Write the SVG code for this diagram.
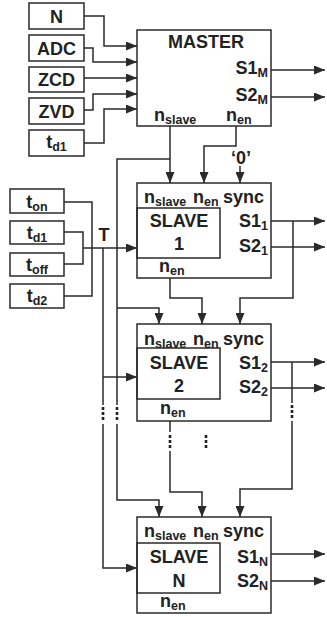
<svg xmlns="http://www.w3.org/2000/svg" width="327" height="617" viewBox="0 0 327 617">
<defs>
<marker id="ah" markerUnits="userSpaceOnUse" markerWidth="11" markerHeight="9" refX="11" refY="4.5" orient="auto">
<path d="M0,0 L11,4.5 L0,9 Z" fill="#2a2a2a"/>
</marker>
</defs>
<style>
.b{fill:#fff;stroke:#2a2a2a;stroke-width:1.5}
.i{fill:none;stroke:#2a2a2a;stroke-width:1.5}
.t{font-family:"Liberation Sans",Arial,sans-serif;font-weight:bold;font-size:18px;fill:#222}
.s{font-size:12.5px}
.c{fill:none;stroke:#2a2a2a;stroke-width:1.5}
.a{marker-end:url(#ah)}
.d{fill:#222}
</style>
<rect width="327" height="617" fill="#fff"/>
<g id="connectors">
<path class="c a" d="M84,16 H104 V46 H137"/>
<path class="c a" d="M84,48 H93 V62 H137"/>
<path class="c a" d="M84,78 H137"/>
<path class="c a" d="M84,110 H93 V94 H137"/>
<path class="c a" d="M84,143 H104 V109 H137"/>
<path class="c a" d="M271,70 H325"/>
<path class="c a" d="M271,97 H325"/>
<path class="c a" d="M170,126 V183"/>
<path class="c" d="M170,159 H117 V405"/>
<path class="c a" d="M117,308 H159 V324"/>
<path class="c a" d="M117,424 V500 H159 V517"/>
<path class="c a" d="M236,126 V146 H204 V183"/>
<path class="c a" d="M240,166 V183"/>
<path class="c" d="M64,202 H92 V296 H64"/>
<path class="c" d="M64,232 H83 V264 H64"/>
<path class="c a" d="M83,248 H137"/>
<path class="c" d="M103,248 V405"/>
<path class="c a" d="M103,377 H137"/>
<path class="c a" d="M103,424 V568 H137"/>
<path class="c a" d="M271,221 H325"/>
<path class="c a" d="M271,247 H325"/>
<path class="c a" d="M293,221 V298 H240 V324"/>
<path class="c a" d="M170,278 V298 H202 V324"/>
<path class="c a" d="M271,362 H325"/>
<path class="c a" d="M271,388 H325"/>
<path class="c" d="M292,362 V403"/>
<path class="c a" d="M292,421 V489 H240 V517"/>
<path class="c" d="M170,421 V432"/>
<path class="c a" d="M170,451 V492 H202 V517"/>
<path class="c a" d="M271,554 H325"/>
<path class="c a" d="M271,581 H325"/>
<g class="d">
<rect x="101.7" y="407" width="2.6" height="3"/><rect x="101.7" y="412" width="2.6" height="3"/><rect x="101.7" y="417" width="2.6" height="3"/>
<rect x="115.7" y="407" width="2.6" height="3"/><rect x="115.7" y="412" width="2.6" height="3"/><rect x="115.7" y="417" width="2.6" height="3"/>
<rect x="290.7" y="405" width="2.6" height="3"/><rect x="290.7" y="410" width="2.6" height="3"/><rect x="290.7" y="415" width="2.6" height="3"/>
<rect x="168.7" y="435" width="2.6" height="3"/><rect x="168.7" y="440" width="2.6" height="3"/><rect x="168.7" y="445" width="2.6" height="3"/>
<rect x="204.7" y="435" width="2.6" height="3"/><rect x="204.7" y="440" width="2.6" height="3"/><rect x="204.7" y="445" width="2.6" height="3"/>
</g>
</g>
<g id="in-N"><rect class="b" x="29" y="3" width="55" height="26"/><text class="t" x="56.5" y="22.5" text-anchor="middle">N</text></g>
<g id="in-ADC"><rect class="b" x="29" y="35" width="55" height="26"/><text class="t" x="56.5" y="54.5" text-anchor="middle">ADC</text></g>
<g id="in-ZCD"><rect class="b" x="29" y="67" width="55" height="25"/><text class="t" x="56.5" y="86" text-anchor="middle">ZCD</text></g>
<g id="in-ZVD"><rect class="b" x="29" y="98" width="55" height="26"/><text class="t" x="56.5" y="117.5" text-anchor="middle">ZVD</text></g>
<g id="in-td1a"><rect class="b" x="29" y="130" width="55" height="26"/><text class="t" x="56.5" y="148" text-anchor="middle">t<tspan class="s" dy="3">d1</tspan></text></g>
<g id="master">
<rect class="b" x="137" y="30" width="134" height="96"/>
<text class="t" x="206" y="48" text-anchor="middle">MASTER</text>
<text class="t" x="268" y="74" text-anchor="end">S1<tspan class="s" dy="3">M</tspan></text>
<text class="t" x="268" y="101" text-anchor="end">S2<tspan class="s" dy="3">M</tspan></text>
<text class="t" x="154" y="121">n<tspan class="s" dy="3">slave</tspan></text>
<text class="t" x="226" y="121">n<tspan class="s" dy="3">en</tspan></text>
</g>
<g id="zero"><text class="t" x="241" y="164" text-anchor="middle">‘0’</text></g>
<g id="T"><text class="t" x="104" y="241" text-anchor="middle">T</text></g>
<g id="in-ton"><rect class="b" x="10" y="189" width="54" height="24"/><text class="t" x="37" y="208" text-anchor="middle">t<tspan class="s" dy="3">on</tspan></text></g>
<g id="in-td1b"><rect class="b" x="10" y="221" width="54" height="23"/><text class="t" x="37" y="239" text-anchor="middle">t<tspan class="s" dy="3">d1</tspan></text></g>
<g id="in-toff"><rect class="b" x="10" y="253" width="54" height="23"/><text class="t" x="37" y="271" text-anchor="middle">t<tspan class="s" dy="3">off</tspan></text></g>
<g id="in-td2"><rect class="b" x="10" y="284" width="54" height="24"/><text class="t" x="37" y="302" text-anchor="middle">t<tspan class="s" dy="3">d2</tspan></text></g>
<g id="slave1">
<rect class="b" x="137" y="183" width="134" height="95"/>
<rect class="i" x="137" y="208" width="83" height="50"/>
<text class="t" x="144" y="203">n<tspan class="s" dy="3">slave</tspan></text>
<text class="t" x="193" y="203">n<tspan class="s" dy="3">en</tspan></text>
<text class="t" x="223" y="203">sync</text>
<text class="t" x="179" y="227" text-anchor="middle">SLAVE</text>
<text class="t" x="179" y="250" text-anchor="middle">1</text>
<text class="t" x="268" y="227" text-anchor="end">S1<tspan class="s" dy="3">1</tspan></text>
<text class="t" x="268" y="252" text-anchor="end">S2<tspan class="s" dy="3">1</tspan></text>
<text class="t" x="159" y="272">n<tspan class="s" dy="3">en</tspan></text>
</g>
<g id="slave2">
<rect class="b" x="137" y="324" width="134" height="97"/>
<rect class="i" x="137" y="348" width="83" height="51"/>
<text class="t" x="144" y="345">n<tspan class="s" dy="3">slave</tspan></text>
<text class="t" x="193" y="345">n<tspan class="s" dy="3">en</tspan></text>
<text class="t" x="223" y="345">sync</text>
<text class="t" x="179" y="369" text-anchor="middle">SLAVE</text>
<text class="t" x="179" y="392" text-anchor="middle">2</text>
<text class="t" x="268" y="369" text-anchor="end">S1<tspan class="s" dy="3">2</tspan></text>
<text class="t" x="268" y="393" text-anchor="end">S2<tspan class="s" dy="3">2</tspan></text>
<text class="t" x="160" y="414">n<tspan class="s" dy="3">en</tspan></text>
</g>
<g id="slaveN">
<rect class="b" x="137" y="517" width="134" height="96"/>
<rect class="i" x="137" y="543" width="83" height="50"/>
<text class="t" x="144" y="537">n<tspan class="s" dy="3">slave</tspan></text>
<text class="t" x="193" y="537">n<tspan class="s" dy="3">en</tspan></text>
<text class="t" x="223" y="537">sync</text>
<text class="t" x="179" y="563" text-anchor="middle">SLAVE</text>
<text class="t" x="179" y="587" text-anchor="middle">N</text>
<text class="t" x="268" y="563" text-anchor="end">S1<tspan class="s" dy="3">N</tspan></text>
<text class="t" x="268" y="587" text-anchor="end">S2<tspan class="s" dy="3">N</tspan></text>
<text class="t" x="160" y="607">n<tspan class="s" dy="3">en</tspan></text>
</g>
</svg>
